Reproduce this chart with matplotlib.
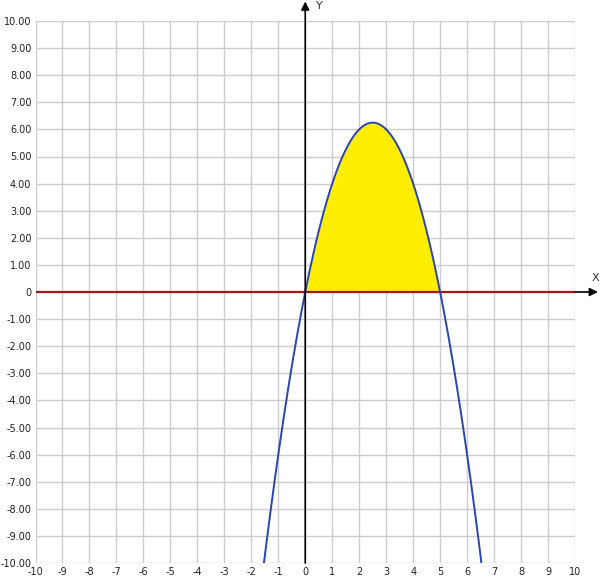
import matplotlib
matplotlib.use('Agg')
import matplotlib.pyplot as plt
import numpy as np

# Curve: y = a*x^2 + b*x + c (roots at 0 and 5, top at 2.5 / 6.25)
coefficients = [-1.0, 5.0, 0.0]
fill_range = [0.0, 5.0]
x_ticks = list(range(-10, 11))
y_ticks = list(range(-10, 11))

fig = plt.figure(figsize=(6.02, 5.87), dpi=100)
ax = fig.add_axes([35.5 / 602, 1 - 563 / 587, (575 - 35.5) / 602, (563 - 21) / 587])
ax.set_xlim(-10, 10)
ax.set_ylim(-10, 10)

# grid
ax.set_xticks(x_ticks)
ax.set_yticks(y_ticks)
ax.grid(True, color='#cccccc', linewidth=1.0)
ax.set_axisbelow(True)
for s in ax.spines.values():
    s.set_visible(False)
ax.tick_params(length=0, labelsize=7, colors='#222222', pad=3)
ax.set_xticklabels([str(t) for t in x_ticks])
ax.set_yticklabels(['0' if t == 0 else '%.2f' % t for t in y_ticks])

# curve
xs = np.linspace(-10, 10, 801)
ys = np.polyval(coefficients, xs)
ax.plot(xs, ys, color='#2a45b0', linewidth=1.4, zorder=4)

# shaded area
xf = np.linspace(fill_range[0], fill_range[1], 300)
ax.fill_between(xf, 0, np.polyval(coefficients, xf), color='#ffee00', linewidth=0, zorder=2)

# axes with arrows
ax.annotate('', xy=(0, 10.72), xytext=(0, -10), annotation_clip=False,
            arrowprops=dict(arrowstyle='-|>', color='black', lw=1.2, mutation_scale=12,
                            shrinkA=0, shrinkB=0), zorder=5)
ax.annotate('', xy=(10.85, 0), xytext=(10, 0), annotation_clip=False,
            arrowprops=dict(arrowstyle='-|>', color='black', lw=1.2, mutation_scale=12,
                            shrinkA=0, shrinkB=0), zorder=5)
ax.plot([-10, 10], [0, 0], color='#a01818', linewidth=1.6, zorder=3)

ax.text(0.4, 10.55, 'Y', fontsize=8, color='#333333', clip_on=False, va='center')
ax.text(10.6, 0.5, 'X', fontsize=8, color='#333333', clip_on=False, va='center')

fig.savefig('out.png', dpi=100)
